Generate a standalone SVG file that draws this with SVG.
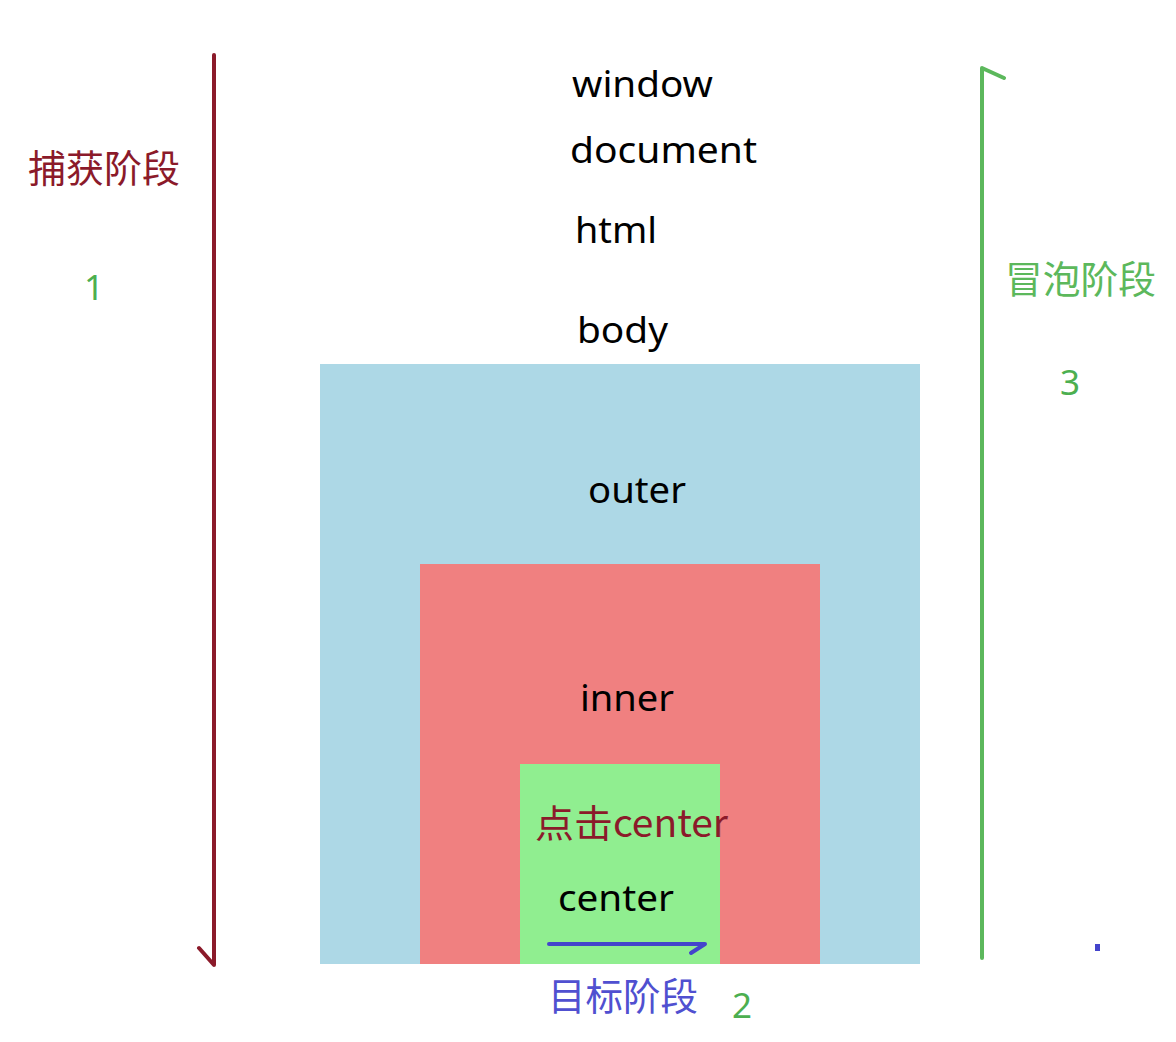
<svg xmlns="http://www.w3.org/2000/svg" width="1176" height="1042" viewBox="0 0 1176 1042">
<style>
.t{font-family:"Noto Sans","Noto Sans CJK SC",sans-serif;font-size:36px;fill:#000}
.cn{font-family:"Noto Sans CJK SC","Noto Sans",sans-serif;font-size:38px}
.num{font-family:"Noto Sans",sans-serif;font-size:35px;fill:#4CAF50}
</style>
<rect width="1176" height="1042" fill="#fff"/>
<g id="outer"><rect x="320" y="364" width="600" height="600" fill="#ADD8E6"/><text class="t" x="588" y="503" textLength="98" lengthAdjust="spacingAndGlyphs">outer</text></g>
<g id="inner"><rect x="420" y="564" width="400" height="400" fill="#F08080"/><text class="t" x="580" y="711" textLength="94" lengthAdjust="spacingAndGlyphs">inner</text></g>
<g id="center"><rect x="520" y="764" width="200" height="200" fill="#90EE90"/><text class="t" x="558" y="911" textLength="116" lengthAdjust="spacingAndGlyphs">center</text><text class="cn" x="535" y="837" fill="#8B1A2A" textLength="193" lengthAdjust="spacingAndGlyphs">点击center</text></g>
<g id="window"><text class="t" x="572" y="97" textLength="141" lengthAdjust="spacingAndGlyphs">window</text></g>
<g id="document"><text class="t" x="570" y="163" textLength="187" lengthAdjust="spacingAndGlyphs">document</text></g>
<g id="html"><text class="t" x="575" y="243" textLength="82" lengthAdjust="spacingAndGlyphs">html</text></g>
<g id="body"><text class="t" x="577" y="343" textLength="91" lengthAdjust="spacingAndGlyphs">body</text></g>
<g id="capture"><text class="cn" x="28" y="182" fill="#8B1A2A" textLength="152" lengthAdjust="spacingAndGlyphs">捕获阶段</text><text class="num" x="84" y="300">1</text></g>
<g id="bubble"><text class="cn" x="1005" y="293" fill="#5CB85C" textLength="151" lengthAdjust="spacingAndGlyphs">冒泡阶段</text><text class="num" x="1060" y="395">3</text></g>
<g id="target"><text class="cn" x="548" y="1010" fill="#5050D0" textLength="150" lengthAdjust="spacingAndGlyphs">目标阶段</text><text class="num" x="732" y="1018">2</text></g>
<g id="connectors" fill="none" stroke-linecap="round" stroke-linejoin="round">
<path d="M214 55 V965 L199 948" stroke="#8B1A2A" stroke-width="4"/>
<path d="M982 958 V68 L1004 78" stroke="#5CB85C" stroke-width="4"/>
<path d="M549 944 H705 L691 953" stroke="#4444CC" stroke-width="4"/>
<rect x="1095" y="944" width="5" height="7" fill="#4444CC" stroke="none"/>
</g>
</svg>
